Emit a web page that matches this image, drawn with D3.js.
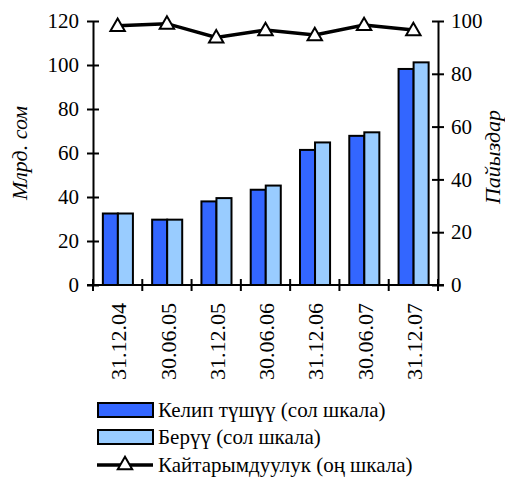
<!DOCTYPE html>
<html><head><meta charset="utf-8">
<script src="https://cdn.jsdelivr.net/npm/d3@7"></script>
<style>
body{margin:0;background:#fff;}
</style></head>
<body><svg id="c" width="505" height="477" style="font-family:'Liberation Serif','DejaVu Serif',serif"></svg>
<script>
const categories = ["31.12.04","30.06.05","31.12.05","30.06.06","31.12.06","30.06.07","31.12.07"];
const inflows = [32.5, 29.7, 38, 43.3, 61.4, 67.8, 98.2];
const outflows = [32.5, 29.7, 39.5, 45.2, 64.8, 69.4, 101.2];
const returnRate = [98.2, 99, 93.8, 96.6, 94.7, 98.5, 96.6];
const leftTicks = [0,20,40,60,80,100,120];
const rightTicks = [0,20,40,60,80,100];
const seriesNames = ["Келип түшүү (сол шкала)","Берүү (сол шкала)","Кайтарымдуулук (оң шкала)"];

const FONT = "'Liberation Serif', 'DejaVu Serif', serif";
const svg = d3.select("#c");
const L = 93, R = 438, T = 21, B = 285;
const x = d3.scaleBand().domain(categories).range([L, R]);
const yL = d3.scaleLinear().domain([0,120]).range([B, T]);
const yR = d3.scaleLinear().domain([0,100]).range([B, T]);
const bw = x.bandwidth();
const barW = bw*0.305, off = bw*0.2;
const c1 = "#3366FF", c2 = "#99CCFF";

// bars
const g = svg.append("g");
g.selectAll(".b1").data(categories).join("rect")
  .attr("x", d => x(d)+off).attr("width", barW)
  .attr("y", (d,i) => yL(inflows[i])).attr("height", (d,i) => B - yL(inflows[i]))
  .attr("fill", c1).attr("stroke","#000").attr("stroke-width",2);
g.selectAll(".b2").data(categories).join("rect")
  .attr("x", d => x(d)+off+barW).attr("width", barW)
  .attr("y", (d,i) => yL(outflows[i])).attr("height", (d,i) => B - yL(outflows[i]))
  .attr("fill", c2).attr("stroke","#000").attr("stroke-width",2);

// axes
const axisL = d3.axisLeft(yL).tickValues(leftTicks).tickSize(0).tickPadding(14);
const gl = svg.append("g").attr("transform",`translate(${L},0)`).call(axisL).attr("font-family",FONT);
gl.select(".domain").attr("stroke","#000").attr("stroke-width",2);
gl.selectAll("text").attr("font-size","21px").attr("fill","#000").style("font-family",FONT);
gl.selectAll(".tick").append("line").attr("x1",-6).attr("x2",6).attr("stroke","#000").attr("stroke-width",2);

const axisR = d3.axisRight(yR).tickValues(rightTicks).tickSize(0).tickPadding(13);
const gr = svg.append("g").attr("transform",`translate(${R},0)`).call(axisR).attr("font-family",FONT);
gr.select(".domain").attr("stroke","#000").attr("stroke-width",2);
gr.selectAll("text").attr("font-size","21px").attr("fill","#000").style("font-family",FONT);
gr.selectAll(".tick").append("line").attr("x1",-6).attr("x2",6).attr("stroke","#000").attr("stroke-width",2);

// x axis
svg.append("line").attr("x1",L-6).attr("x2",R+6).attr("y1",B).attr("y2",B).attr("stroke","#000").attr("stroke-width",2);
const bounds = categories.map(d => x(d)).concat([R]);
svg.selectAll(".xt").data(bounds).join("line")
  .attr("x1",d=>d).attr("x2",d=>d).attr("y1",B-6).attr("y2",B+6)
  .attr("stroke","#000").attr("stroke-width",2);
svg.selectAll(".xl").data(categories).join("text")
  .attr("transform", d => `translate(${x(d)+bw/2+1},${B+18}) rotate(-90)`)
  .attr("text-anchor","end").attr("dy","0.35em").attr("font-size","22px").style("font-family",FONT)
  .text(d => d);

// line
const line = d3.line().x((d,i)=>x(categories[i])+bw/2).y(d=>yR(d));
svg.append("path").datum(returnRate).attr("d",line).attr("fill","none")
  .attr("stroke","#000").attr("stroke-width",3.5);
const tri = d3.symbol().type(d3.symbolTriangle).size(90);
svg.selectAll(".m").data(returnRate).join("path")
  .attr("d", tri).attr("transform",(d,i)=>`translate(${x(categories[i])+bw/2},${yR(d)+1})`)
  .attr("fill","#fff").attr("stroke","#000").attr("stroke-width",2);

// axis titles
svg.append("text").attr("transform",`translate(27,${(T+B)/2}) rotate(-90)`).style("font-family",FONT)
  .attr("text-anchor","middle").attr("font-size","22px").attr("font-style","italic").text("Млрд. сом");
svg.append("text").attr("transform",`translate(500,${(T+B)/2+4}) rotate(-90)`).style("font-family",FONT)
  .attr("text-anchor","middle").attr("font-size","22px").attr("font-style","italic").text("Пайыздар");

// legend
const lg = svg.append("g");
const rows = [{y:410,type:"rect",c:c1},{y:437,type:"rect",c:c2},{y:465,type:"line"}];
rows.forEach((r,i) => {
  if (r.type==="rect") {
    lg.append("rect").attr("x",98).attr("y",r.y-7).attr("width",55).attr("height",14)
      .attr("fill",r.c).attr("stroke","#000").attr("stroke-width",2);
  } else {
    lg.append("line").attr("x1",97).attr("x2",153).attr("y1",r.y).attr("y2",r.y).attr("stroke","#000").attr("stroke-width",3.5);
    lg.append("path").attr("d",tri).attr("transform",`translate(125,${r.y})`).attr("fill","#fff").attr("stroke","#000").attr("stroke-width",2);
  }
  lg.append("text").attr("x",158).attr("y",r.y).attr("dy","0.35em").attr("font-size","21px").style("font-family",FONT).text(seriesNames[i]);
});
</script></body></html>
